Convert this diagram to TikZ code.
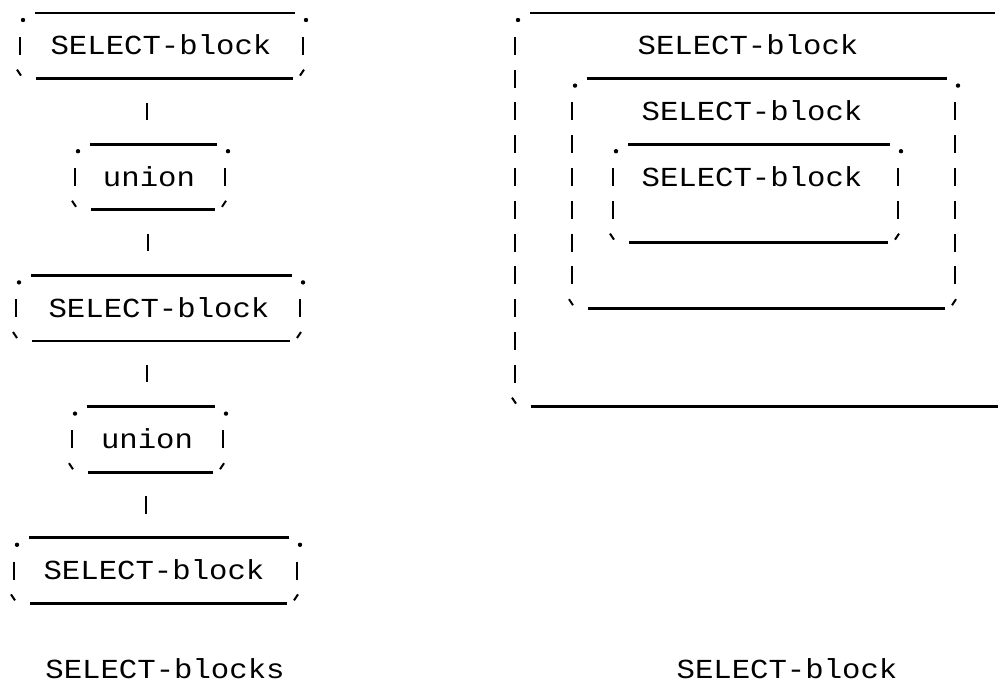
\documentclass[tikz,border=0pt]{standalone}
\usepackage{fontspec}
\usepackage{graphicx}
\usetikzlibrary{fit}
\newfontfamily\tfont{Liberation Mono}
\newcommand\ttx[1]{\scalebox{1.115}[1]{#1}}
\tikzset{
 hline/.style={line width=2.8pt},
 vbar/.style={line width=2.4pt},
 tickm/.style={line width=2pt},
 frame/.style={inner sep=0pt, draw=none},
 link/.style={line width=2.4pt, shorten <=24pt, shorten >=24pt},
 txt/.style={font=\tfont\fontsize{27.5}{30}\selectfont, inner sep=0pt, anchor=base},
}
\newcommand\tbox[5]{%
 \pgfmathsetmacro\yt{13+32.8*#4}%
 \pgfmathsetmacro\yb{13+32.8*#5}%
 \node[frame, fit={(#2,\yt) (#3,\yb)}] (#1) {};
 \draw[hline] (#2+15,\yt) -- (#3-8,\yt);
 \fill (#2+3,\yt+7) circle (2.2);
 \fill (#3+3,\yt+7) circle (2.2);
 \pgfmathtruncatemacro\ra{#4+1}%
 \pgfmathtruncatemacro\rb{#5-1}%
 \foreach \r in {\ra,...,\rb}{%
   \pgfmathsetmacro\yy{13+32.8*\r}%
   \draw[vbar] (#2,\yy-9) -- (#2,\yy+9);
   \draw[vbar] (#3,\yy-9) -- (#3,\yy+9);
 }
 \draw[tickm] (#2-3,\yb-9) -- (#2+1,\yb-3);
 \draw[tickm] (#3+1,\yb-9) -- (#3-3,\yb-3);
 \draw[hline] (#2+16,\yb) -- (#3-10,\yb);
}
\begin{document}
\begin{tikzpicture}[x=1pt,y=-1pt]
\useasboundingbox[fill=white] (0,0) rectangle (1006,685);
% left column
\tbox{b1}{20}{303}{0}{2}
\tbox{u1}{75}{225}{4}{6}
\tbox{b3}{16}{300}{8}{10}
\tbox{u2}{72}{223}{12}{14}
\tbox{b5}{14}{297}{16}{18}
\node[txt] (t1) at (161,54.8) {\ttx{SELECT-block}};
\node[txt] (t2) at (149,186) {\ttx{union}};
\node[txt] (t3) at (159,317.2) {\ttx{SELECT-block}};
\node[txt] (t4) at (147,448.4) {\ttx{union}};
\node[txt] (t5) at (154,579.6) {\ttx{SELECT-block}};
\node[txt] (l1) at (165,678) {\ttx{SELECT-blocks}};
\coordinate (k1) at (147,0);
\coordinate (k2) at (148,0);
\coordinate (k3) at (147,0);
\coordinate (k4) at (146,0);
\draw[link] (b1.south -| k1) -- (u1.north -| k1);
\draw[link] (u1.south -| k2) -- (b3.north -| k2);
\draw[link] (b3.south -| k3) -- (u2.north -| k3);
\draw[link] (u2.south -| k4) -- (b5.north -| k4);
% right: nested blocks
\node[frame, fit={(515,13) (1000,406.6)}] (outer) {};
\draw[hline] (530,13) -- (995,13);
\fill (518,20) circle (2.2);
\foreach \r in {1,...,11}{%
  \pgfmathsetmacro\yy{13+32.8*\r}%
  \draw[vbar] (515,\yy-9) -- (515,\yy+9);
}
\draw[tickm] (512,397.6) -- (516,403.6);
\draw[hline] (531,406.6) -- (998,406.6);
\tbox{mid}{572}{955}{2}{9}
\tbox{inn}{613}{898}{4}{7}
\node[txt] (r1) at (748,54.8) {\ttx{SELECT-block}};
\node[txt] (r2) at (752,120.4) {\ttx{SELECT-block}};
\node[txt] (r3) at (752,186) {\ttx{SELECT-block}};
\node[txt] (l2) at (787,678) {\ttx{SELECT-block}};
\end{tikzpicture}
\end{document}
